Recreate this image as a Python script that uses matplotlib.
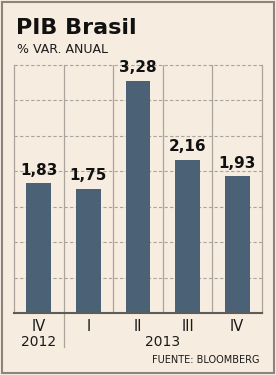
import matplotlib

matplotlib.use("Agg")
import matplotlib.pyplot as plt
from matplotlib.patches import Rectangle
from matplotlib.transforms import blended_transform_factory

quarters = ["IV", "I", "II", "III", "IV"]
values = [1.83, 1.75, 3.28, 2.16, 1.93]
years = ["2012", "2013"]

W, H = 276, 375
BG = "#f6ecdf"
BAR = "#4a6176"
GRID = "#aaa49c"

plt.rcParams["font.family"] = ["DejaVu Sans"]


def fx(px):
    return px / W


def fy(py):
    return 1 - py / H


fig = plt.figure(figsize=(W / 100, H / 100), dpi=100, facecolor=BG)
fig.patches.append(Rectangle((fx(1.5), fy(373)), fx(272), 371 / H, transform=fig.transFigure,
                             fill=False, edgecolor="#8f847b", linewidth=1.5))

ax = fig.add_axes([fx(14), fy(313), fx(248), 248 / H])
ax.set_facecolor(BG)
x = range(len(values))
ax.bar(x, values, width=0.5, color=BAR, zorder=3)
for xi, v in zip(x, values):
    ax.text(xi, v + 0.08, f"{v:.2f}".replace(".", ","), ha="center", va="bottom",
            fontsize=11, fontweight="bold", color="#111111", zorder=4)

ax.set_xlim(-0.5, len(values) - 0.5)
ax.set_ylim(0, 3.5)
for yv in [0.5, 1.0, 1.5, 2.0, 2.5, 3.0, 3.5]:
    ax.axhline(yv, color=GRID, linewidth=0.8, linestyle=(0, (3, 2)), zorder=1, clip_on=False)
for xv in [0.5, 1.5, 2.5, 3.5]:
    ax.axvline(xv, color=GRID, linewidth=0.9, zorder=2)

ax.spines["top"].set_visible(False)
for side in ["left", "right"]:
    ax.spines[side].set_color(GRID)
    ax.spines[side].set_linewidth(0.9)
ax.spines["bottom"].set_color("#5e5c59")
ax.spines["bottom"].set_linewidth(1.5)
ax.spines["bottom"].set_zorder(5)

ax.set_yticks([])
ax.set_xticks(list(x), quarters, fontsize=10.5, color="#1a1a1a")
ax.tick_params(axis="x", length=0, pad=4)

tr = blended_transform_factory(ax.transData, ax.transAxes)
ax.text(0, -0.088, years[0], transform=tr, ha="center", va="top", fontsize=10, color="#1a1a1a")
ax.text(2.5, -0.088, years[1], transform=tr, ha="center", va="top", fontsize=10, color="#1a1a1a")
ax.plot([0.5, 0.5], [0, -0.137], transform=tr, color=GRID, linewidth=0.9, clip_on=False)

fig.text(fx(16), fy(34), "PIB Brasil", fontsize=16, fontweight="bold", color="#111111",
         ha="left", va="baseline")
fig.text(fx(17), fy(53), "% VAR. ANUAL", fontsize=9, color="#1a1a1a", ha="left", va="baseline")
fig.text(fx(259), fy(363), "FUENTE: BLOOMBERG", fontsize=7, color="#1a1a1a", ha="right", va="baseline")

fig.savefig("out.png", dpi=100, facecolor=BG)
